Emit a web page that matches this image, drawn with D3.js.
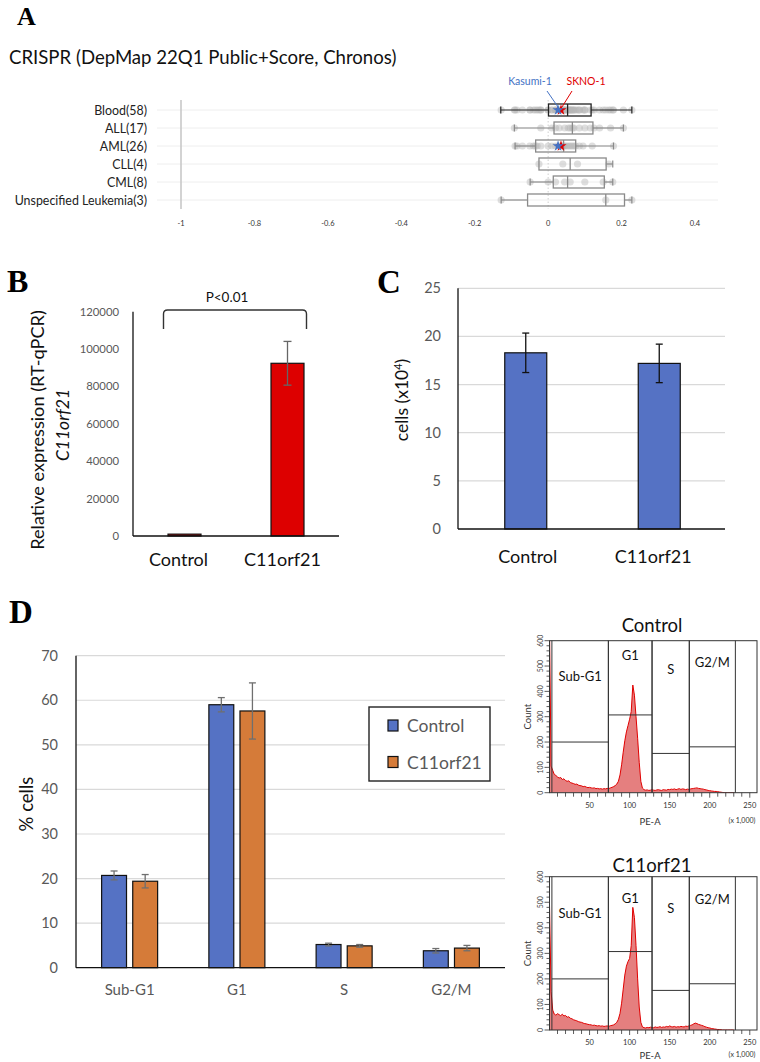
<!DOCTYPE html>
<html><head><meta charset="utf-8">
<script src="https://cdn.jsdelivr.net/npm/d3@7"></script>
<style>
body{margin:0;background:#fff}
svg{display:block}
text{font-family:Lato,"Open Sans",sans-serif}
.letter{font-family:"Liberation Serif","Times New Roman",serif;font-weight:bold}
</style>
</head><body>
<svg id="c" width="760" height="1062"></svg>
<script>
// ---------- Panel A data ----------
const aCategories = ["Blood(58)","ALL(17)","AML(26)","CLL(4)","CML(8)","Unspecified Leukemia(3)"];
const aWhiskerLow  = [-0.129,-0.092,-0.090,-0.025,-0.049,-0.128];
const aQ1          = [ 0.001, 0.016,-0.034,-0.025, 0.014,-0.056];
const aMedian      = [ 0.053, 0.066, 0.042, 0.060, 0.053, 0.157];
const aQ3          = [ 0.117, 0.122, 0.075, 0.158, 0.153, 0.208];
const aWhiskerHigh = [ 0.228, 0.205, 0.178, 0.176, 0.176, 0.228];
const aTicks = [-1,-0.8,-0.6,-0.4,-0.2,0,0.2,0.4];
const pointsALL = [-0.092,-0.020,0.010,0.020,0.030,0.045,0.055,0.060,0.066,0.070,0.085,0.100,0.115,0.125,0.140,0.170,0.205];
const pointsAML = [-0.090,-0.085,-0.070,-0.050,-0.040,-0.035,-0.030,-0.020,0.000,0.010,0.020,0.027,0.035,0.040,0.042,0.045,0.050,0.055,0.060,0.065,0.070,0.075,0.085,0.095,0.120,0.178];
const pointsCLL = [-0.025,0.040,0.080,0.165];
const pointsCML = [-0.049,0.000,0.020,0.045,0.060,0.100,0.150,0.176];
const pointsUnspecified = [-0.128,0.157,0.228];
const pointsBlood = [].concat(pointsALL,pointsAML,pointsCLL,pointsCML,pointsUnspecified);
const aPoints = [pointsBlood,pointsALL,pointsAML,pointsCLL,pointsCML,pointsUnspecified];
const highlightLines = ["Kasumi-1","SKNO-1"];
const highlightValues = [0.027,0.035];
const highlightRows = ["Blood(58)","AML(26)"];

// ---------- Panel B data ----------
const bCategories = ["Control","C11orf21"];
const bValues = [1000,92400];
const bErrors = [150,11700];
const bTicks = [0,20000,40000,60000,80000,100000,120000];

// ---------- Panel C data ----------
const cCategories = ["Control","C11orf21"];
const cValues = [18.3,17.2];
const cErrors = [2.05,2.0];
const cTicks = [0,5,10,15,20,25];

// ---------- Panel D data ----------
const dPhases = ["Sub-G1","G1","S","G2/M"];
const dSeries = ["Control","C11orf21"];
const dControl = [20.7,59.0,5.2,3.8];
const dControlErr = [1.0,1.6,0.3,0.5];
const dC11orf21 = [19.4,57.6,4.9,4.4];
const dC11orf21Err = [1.5,6.3,0.3,0.6];
const dTicks = [0,10,20,30,40,50,60,70];

// ---------- Histogram data (PE-A x1,000, bins of 2) ----------
const histBins = d3.range(0,232,2);
const histControl = [650,105,88,72,68,62,58,60,52,55,48,45,47,40,38,36,33,34,30,28,27,24,25,22,20,21,19,18,19,16,17,15,16,14,16,15,17,16,19,21,24,28,34,45,70,110,160,205,240,265,290,320,425,385,300,215,120,45,18,12,10,11,9,10,12,10,9,11,12,10,9,12,11,10,13,12,14,13,15,12,14,16,13,15,14,12,14,13,15,16,17,18,19,17,16,15,14,12,11,9,8,7,6,5,5,4,3,2,1,0,0,0,0,0,0,0];
const histC11orf21 = [490,150,78,62,58,64,60,56,62,55,57,50,52,46,44,40,38,36,33,31,30,27,25,24,22,21,20,18,19,17,16,17,15,16,14,15,16,14,17,18,20,24,30,42,65,105,160,215,250,268,280,330,480,440,330,200,90,30,12,9,8,10,9,11,10,9,12,10,11,13,10,12,11,14,12,16,13,12,14,11,13,12,14,13,12,15,14,16,18,20,24,27,25,22,20,18,16,13,11,9,8,6,5,4,3,2,2,1,0,0,0,0,0,0,0,0];
const histTicksY = [0,100,200,300,400,500,600];
const histTicksX = [50,100,150,200,250];
const gateNames = ["Sub-G1","G1","S","G2/M"];
const gateEdges = [3,73.5,128,174.5,232];
const gateLevels = [200,307,155,181];

const svg = d3.select("#c");
const BLUE = "#5572C4", ORANGE = "#D57B39", RED = "#DD0000", GRAYTXT = "#595959";

// =============== PANEL A ===============
svg.append("text").attr("class","letter").attr("x",17).attr("y",25).attr("font-size",26).text("A");
svg.append("text").attr("x",9).attr("y",64).attr("font-size",18.6).attr("fill","#111")
  .text("CRISPR (DepMap 22Q1 Public+Score, Chronos)");

const ax = d3.scaleLinear().domain([-1,0.4]).range([181,695]);
const ay = d3.scalePoint().domain(aCategories).range([110,200]);
const gA = svg.append("g");
aCategories.forEach(c=>{
  gA.append("line").attr("x1",157).attr("x2",718).attr("y1",ay(c)).attr("y2",ay(c)).attr("stroke","#eeeeee").attr("stroke-width",1);
  gA.append("text").attr("x",147).attr("y",ay(c)+4.5).attr("text-anchor","end").attr("font-size",12.4).attr("fill","#222").text(c);
});
gA.append("line").attr("x1",ax(-1)).attr("x2",ax(-1)).attr("y1",100).attr("y2",209).attr("stroke","#c8c8c8").attr("stroke-width",1.6);
gA.append("line").attr("x1",ax(0)).attr("x2",ax(0)).attr("y1",100).attr("y2",209).attr("stroke","#cfcfcf").attr("stroke-width",1).attr("stroke-dasharray","1.5,2");
aTicks.forEach(t=>{
  gA.append("text").attr("x",ax(t)).attr("y",226).attr("text-anchor","middle").attr("font-size",7.5).attr("fill","#333").text(t);
});
aCategories.forEach((c,i)=>{
  const y = ay(c);
  const col = i===0 ? "#222" : "#8a8a8a";
  aPoints[i].forEach(v=>{
    gA.append("circle").attr("cx",ax(v)).attr("cy",y).attr("r",3.6).attr("fill","#b5b5b5").attr("fill-opacity",0.45);
  });
  if (aWhiskerLow[i] < aQ1[i]) {
    gA.append("line").attr("x1",ax(aWhiskerLow[i])).attr("x2",ax(aQ1[i])).attr("y1",y).attr("y2",y).attr("stroke",col).attr("stroke-width",1.2);
    gA.append("line").attr("x1",ax(aWhiskerLow[i])).attr("x2",ax(aWhiskerLow[i])).attr("y1",y-3.5).attr("y2",y+3.5).attr("stroke",col).attr("stroke-width",1.2);
  }
  gA.append("line").attr("x1",ax(aQ3[i])).attr("x2",ax(aWhiskerHigh[i])).attr("y1",y).attr("y2",y).attr("stroke",col).attr("stroke-width",1.2);
  gA.append("line").attr("x1",ax(aWhiskerHigh[i])).attr("x2",ax(aWhiskerHigh[i])).attr("y1",y-3.5).attr("y2",y+3.5).attr("stroke",col).attr("stroke-width",1.2);
  gA.append("rect").attr("x",ax(aQ1[i])).attr("y",y-6).attr("width",ax(aQ3[i])-ax(aQ1[i])).attr("height",12)
    .attr("fill","none").attr("stroke",col).attr("stroke-width",1.3);
  gA.append("line").attr("x1",ax(aMedian[i])).attr("x2",ax(aMedian[i])).attr("y1",y-6).attr("y2",y+6).attr("stroke",col).attr("stroke-width",1.3);
});
const starColors = ["#4472C4","#E00000"];
const star = d3.symbol().type(d3.symbolStar).size(38);
highlightRows.forEach(r=>{
  [1,0].forEach(j=>{
    gA.append("path").attr("d",star()).attr("transform",`translate(${ax(highlightValues[j])},${ay(r)})`).attr("fill",starColors[j]);
  });
});
gA.append("text").attr("x",530).attr("y",85).attr("text-anchor","middle").attr("font-size",10.5).attr("fill","#4472C4").text(highlightLines[0]);
gA.append("text").attr("x",586).attr("y",85).attr("text-anchor","middle").attr("font-size",10.5).attr("fill","#E00000").text(highlightLines[1]);
gA.append("line").attr("x1",547).attr("y1",91).attr("x2",ax(highlightValues[0])).attr("y2",ay(highlightRows[0])-3).attr("stroke","#4472C4").attr("stroke-width",1);
gA.append("line").attr("x1",572).attr("y1",91).attr("x2",ax(highlightValues[1])+1).attr("y2",ay(highlightRows[0])-3).attr("stroke","#E00000").attr("stroke-width",1);

// =============== PANEL B ===============
svg.append("text").attr("class","letter").attr("x",7).attr("y",292).attr("font-size",32).text("B");
const bx = d3.scaleBand().domain(bCategories).range([133,339]);
const by = d3.scaleLinear().domain([0,120000]).range([536,311.7]);
const gB = svg.append("g");
bTicks.forEach(t=>{
  gB.append("text").attr("x",119).attr("y",by(t)+4).attr("text-anchor","end").attr("font-size",11.3).attr("fill",GRAYTXT).text(t);
});
const bw = 33;
bCategories.forEach((c,i)=>{
  const cx = bx(c)+bx.bandwidth()/2;
  gB.append("rect").attr("x",cx-bw/2).attr("y",by(bValues[i])).attr("width",bw).attr("height",by(0)-by(bValues[i]))
    .attr("fill",RED).attr("stroke","#111").attr("stroke-width",1.2);
  if (bErrors[i] > 1000) {
    const g = gB.append("g").attr("stroke","#666").attr("stroke-width",1.3);
    g.append("line").attr("x1",cx).attr("x2",cx).attr("y1",by(bValues[i]+bErrors[i])).attr("y2",by(bValues[i]-bErrors[i]));
    g.append("line").attr("x1",cx-4).attr("x2",cx+4).attr("y1",by(bValues[i]+bErrors[i])).attr("y2",by(bValues[i]+bErrors[i]));
    g.append("line").attr("x1",cx-4).attr("x2",cx+4).attr("y1",by(bValues[i]-bErrors[i])).attr("y2",by(bValues[i]-bErrors[i]));
  }
  gB.append("text").attr("x",cx-6+(i===0?0:1)).attr("y",566).attr("text-anchor","middle").attr("font-size",18).attr("fill","#111").text(c);
});
gB.append("line").attr("x1",133).attr("x2",133).attr("y1",by(120000)).attr("y2",by(0)).attr("stroke","#111").attr("stroke-width",1.3);
gB.append("line").attr("x1",133).attr("x2",339).attr("y1",by(0)).attr("y2",by(0)).attr("stroke","#111").attr("stroke-width",1.3);
const bl = bx("Control")+bx.bandwidth()/2-21, br = bx("C11orf21")+bx.bandwidth()/2+19;
gB.append("path").attr("d",`M${bl},329 L${bl},314 Q${bl},310 ${bl+4},310 L${br-4},310 Q${br},310 ${br},314 L${br},329`)
  .attr("fill","none").attr("stroke","#333").attr("stroke-width",1.4);
gB.append("text").attr("x",227).attr("y",302).attr("text-anchor","middle").attr("font-size",13.5).attr("fill","#111").text("P<0.01");
gB.append("text").attr("transform","translate(44,430) rotate(-90)").attr("text-anchor","middle").attr("font-size",18.2).attr("fill","#111")
  .text("Relative expression (RT-qPCR)");
gB.append("text").attr("transform","translate(69,425) rotate(-90)").attr("text-anchor","middle").attr("font-size",17.5).attr("font-style","italic").attr("fill","#111")
  .text("C11orf21");

// =============== PANEL C ===============
svg.append("text").attr("class","letter").attr("x",377).attr("y",293).attr("font-size",33).text("C");
const cx = d3.scaleBand().domain(cCategories).range([458,725]);
const cy = d3.scaleLinear().domain([0,25]).range([529,288.3]);
const gC = svg.append("g");
cTicks.forEach(t=>{
  if (t>0) gC.append("line").attr("x1",458).attr("x2",725).attr("y1",cy(t)).attr("y2",cy(t)).attr("stroke","#d9d9d9").attr("stroke-width",1.2);
  gC.append("text").attr("x",441).attr("y",cy(t)+5).attr("text-anchor","end").attr("font-size",14.5).attr("fill",GRAYTXT).text(t);
});
cCategories.forEach((c,i)=>{
  const m = cx(c)+cx.bandwidth()/2 + 1;
  gC.append("rect").attr("x",m-21).attr("y",cy(cValues[i])).attr("width",42).attr("height",cy(0)-cy(cValues[i]))
    .attr("fill",BLUE).attr("stroke","#111").attr("stroke-width",1.2);
  const g = gC.append("g").attr("stroke","#111").attr("stroke-width",1.3);
  g.append("line").attr("x1",m).attr("x2",m).attr("y1",cy(cValues[i]+cErrors[i])).attr("y2",cy(cValues[i]-cErrors[i]));
  g.append("line").attr("x1",m-3.5).attr("x2",m+3.5).attr("y1",cy(cValues[i]+cErrors[i])).attr("y2",cy(cValues[i]+cErrors[i]));
  g.append("line").attr("x1",m-3.5).attr("x2",m+3.5).attr("y1",cy(cValues[i]-cErrors[i])).attr("y2",cy(cValues[i]-cErrors[i]));
  gC.append("text").attr("x",m+(i===0?2:-6)).attr("y",563).attr("text-anchor","middle").attr("font-size",18).attr("fill","#111").text(c);
});
gC.append("line").attr("x1",458).attr("x2",458).attr("y1",cy(25)).attr("y2",cy(0)).attr("stroke","#111").attr("stroke-width",1.3);
gC.append("line").attr("x1",458).attr("x2",725).attr("y1",cy(0)).attr("y2",cy(0)).attr("stroke","#111").attr("stroke-width",1.3);
const cLab = gC.append("text").attr("transform","translate(408,400) rotate(-90)").attr("text-anchor","middle").attr("font-size",17.5).attr("fill","#111");
cLab.append("tspan").text("cells (x10");
cLab.append("tspan").attr("font-size",11).attr("dy",-6).text("4");
cLab.append("tspan").attr("dy",6).text(")");

// =============== PANEL D ===============
svg.append("text").attr("class","letter").attr("x",9).attr("y",623).attr("font-size",33).text("D");
const dx = d3.scaleBand().domain(dPhases).range([76,505]);
const dsub = d3.scaleBand().domain(dSeries).range([0,56]).paddingInner(0.2);
const dy = d3.scaleLinear().domain([0,70]).range([967.7,655.7]);
const gD = svg.append("g");
dTicks.forEach(t=>{
  if (t>0) gD.append("line").attr("x1",76).attr("x2",505).attr("y1",dy(t)).attr("y2",dy(t)).attr("stroke","#d9d9d9").attr("stroke-width",1.2);
  gD.append("text").attr("x",58).attr("y",dy(t)+5).attr("text-anchor","end").attr("font-size",14.5).attr("fill",GRAYTXT).text(t);
});
const dVals = [dControl,dC11orf21], dErrs = [dControlErr,dC11orf21Err], dCols = [BLUE,ORANGE];
dPhases.forEach((p,i)=>{
  const base = dx(p)+dx.bandwidth()/2-28;
  dSeries.forEach((s,j)=>{
    const x0 = base + dsub(s), w = dsub.bandwidth(), v = dVals[j][i], e = dErrs[j][i], m = x0+w/2;
    gD.append("rect").attr("x",x0).attr("y",dy(v)).attr("width",w).attr("height",dy(0)-dy(v))
      .attr("fill",dCols[j]).attr("stroke","#111").attr("stroke-width",1.2);
    const g = gD.append("g").attr("stroke","#6f6f6f").attr("stroke-width",1.3);
    g.append("line").attr("x1",m).attr("x2",m).attr("y1",dy(v+e)).attr("y2",dy(v-e));
    g.append("line").attr("x1",m-3.5).attr("x2",m+3.5).attr("y1",dy(v+e)).attr("y2",dy(v+e));
    g.append("line").attr("x1",m-3.5).attr("x2",m+3.5).attr("y1",dy(v-e)).attr("y2",dy(v-e));
  });
  gD.append("text").attr("x",dx(p)+dx.bandwidth()/2).attr("y",995).attr("text-anchor","middle").attr("font-size",15).attr("fill",GRAYTXT).text(p);
});
gD.append("line").attr("x1",76).attr("x2",76).attr("y1",dy(70)).attr("y2",dy(0)).attr("stroke","#111").attr("stroke-width",1.3);
gD.append("line").attr("x1",76).attr("x2",505).attr("y1",dy(0)).attr("y2",dy(0)).attr("stroke","#111").attr("stroke-width",1.3);
gD.append("text").attr("transform","translate(33,804) rotate(-90)").attr("text-anchor","middle").attr("font-size",18.5).attr("fill","#111").text("% cells");
gD.append("rect").attr("x",369).attr("y",707).attr("width",121).attr("height",74).attr("fill","#fff").attr("stroke","#222").attr("stroke-width",1.4);
dSeries.forEach((s,j)=>{
  const yy = 725.5 + j*36.5;
  gD.append("rect").attr("x",388).attr("y",yy-5.5).attr("width",10).attr("height",11).attr("fill",dCols[j]).attr("stroke","#111").attr("stroke-width",1.2);
  gD.append("text").attr("x",407).attr("y",yy+6.5).attr("font-size",17.5).attr("fill",GRAYTXT).text(s);
});

// =============== HISTOGRAMS ===============
function histogram(title, counts, top, bottom, titleY, labelOffsets, peaY) {
  const hx = d3.scaleLinear().domain([0,259]).range([549.5,757]);
  const hy = d3.scaleLinear().domain([0,600]).range([bottom,top]);
  const g = svg.append("g");
  const clipId = "clip"+Math.round(top);
  g.append("clipPath").attr("id",clipId).append("rect").attr("x",hx(0)).attr("y",top).attr("width",hx(259)-hx(0)).attr("height",bottom-top);
  const data = histBins.map((b,i)=>[b,counts[i]]);
  const area = d3.area().x(d=>hx(d[0])).y0(hy(0)).y1(d=>hy(d[1])).curve(d3.curveLinear);
  const line = d3.line().x(d=>hx(d[0])).y(d=>hy(d[1])).curve(d3.curveLinear);
  g.append("path").attr("d",area(data)).attr("fill","#E06868").attr("fill-opacity",0.85).attr("clip-path",`url(#${clipId})`);
  g.append("path").attr("d",line(data)).attr("fill","none").attr("stroke","#E00000").attr("stroke-width",1).attr("clip-path",`url(#${clipId})`);
  g.append("rect").attr("x",hx(0)).attr("y",top).attr("width",hx(259)-hx(0)).attr("height",bottom-top).attr("fill","none").attr("stroke","#333").attr("stroke-width",1);
  gateNames.forEach((n,i)=>{
    const x0 = hx(gateEdges[i]), x1 = hx(gateEdges[i+1]);
    g.append("line").attr("x1",x0).attr("x2",x0).attr("y1",top).attr("y2",bottom).attr("stroke","#333").attr("stroke-width",1);
    g.append("line").attr("x1",x1).attr("x2",x1).attr("y1",top).attr("y2",bottom).attr("stroke","#333").attr("stroke-width",1);
    g.append("line").attr("x1",x0).attr("x2",x1).attr("y1",hy(gateLevels[i])).attr("y2",hy(gateLevels[i])).attr("stroke","#333").attr("stroke-width",1);
    g.append("text").attr("x",(x0+x1)/2).attr("y",top+labelOffsets[i]+4.5).attr("text-anchor","middle").attr("font-size",13).attr("fill","#111").text(n);
  });
  d3.range(0,601,20).forEach(t=>{
    const len = t%100===0 ? 5 : 3;
    g.append("line").attr("x1",hx(0)-len).attr("x2",hx(0)).attr("y1",hy(t)).attr("y2",hy(t)).attr("stroke","#333").attr("stroke-width",0.8);
  });
  histTicksY.forEach(t=>{
    g.append("text").attr("transform",`translate(${hx(0)-7},${hy(t)}) rotate(-90)`).attr("text-anchor","middle").attr("font-size",7).attr("fill","#444").text(t);
  });
  g.append("text").attr("transform",`translate(531,${(top+bottom)/2}) rotate(-90)`).attr("text-anchor","middle").attr("font-size",9.5).attr("fill","#333").text("Count");
  d3.range(10,260,10).forEach(t=>{
    const len = t%50===0 ? 5 : 4;
    g.append("line").attr("x1",hx(t)).attr("x2",hx(t)).attr("y1",bottom).attr("y2",bottom+len).attr("stroke","#333").attr("stroke-width",0.8);
  });
  histTicksX.forEach(t=>{
    g.append("text").attr("x",hx(t)).attr("y",bottom+15).attr("text-anchor","middle").attr("font-size",7.5).attr("fill","#333").text(t);
  });
  g.append("text").attr("x",650).attr("y",peaY).attr("text-anchor","middle").attr("font-size",9.5).attr("fill","#333").text("PE-A");
  g.append("text").attr("x",742).attr("y",peaY-2).attr("text-anchor","middle").attr("font-size",7).attr("fill","#333").text("(x 1,000)");
  svg.append("text").attr("x",652).attr("y",titleY).attr("text-anchor","middle").attr("font-size",18.5).attr("fill","#111").text(title);
}
histogram("Control", histControl, 640.7, 792.7, 632, [36,15,29,22], 825);
histogram("C11orf21", histC11orf21, 876.7, 1030, 872, [37,22,32,23], 1059);
</script>
</body></html>
